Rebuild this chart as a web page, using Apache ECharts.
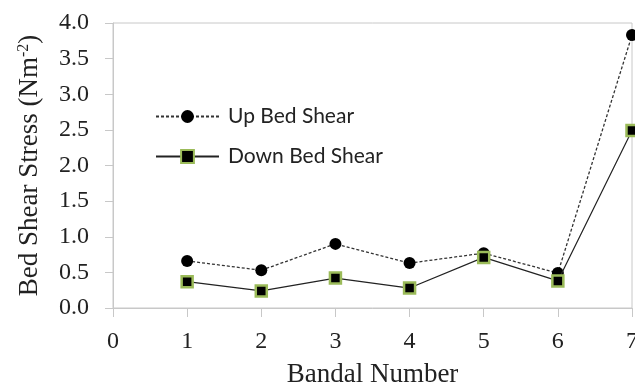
<!DOCTYPE html>
<html><head><meta charset="utf-8">
<script src="https://cdn.jsdelivr.net/npm/echarts@6/dist/echarts.min.js"></script>
<style>html,body{margin:0;padding:0;background:#fff}#c{width:635px;height:388px}</style>
</head><body><div id="c"></div>
<script>
var bandals = [1, 2, 3, 4, 5, 6, 7];
var upBedShear = [0.66, 0.53, 0.90, 0.63, 0.77, 0.49, 3.83];
var downBedShear = [0.37, 0.24, 0.42, 0.28, 0.71, 0.38, 2.49];
var xTicks = [0, 7, 1];
var yTicks = [0, 4, 0.5];

function pairs(xs, ys){ return xs.map(function(x,i){ return [x, ys[i]]; }); }

var chart = echarts.init(document.getElementById('c'), null, {renderer:'canvas'});
chart.setOption({
  animation: false,
  grid: {left: 113, right: 3, top: 23, bottom: 80, show: true, borderColor: '#c8c8c8', borderWidth: 1,
    containLabel: false, outerBoundsMode: 'none'},
  legend: {
    orient: 'vertical', left: 150, top: 100, itemWidth: 63, itemHeight: 16, itemGap: 17,
    textStyle: {fontFamily: 'Lato', fontSize: 21, lineHeight: 23, color: '#222', padding: [0,0,0,4]},
    data: ['Up Bed Shear', 'Down Bed Shear']
  },
  xAxis: {
    type: 'value', min: xTicks[0], max: xTicks[1], interval: xTicks[2],
    name: 'Bandal Number', nameLocation: 'middle', nameGap: 53,
    nameTextStyle: {fontFamily: 'Liberation Serif', fontSize: 27, color: '#222'},
    axisLine: {lineStyle: {color: '#c8c8c8', width: 1}},
    axisTick: {show: true, length: 9, lineStyle: {color: '#c8c8c8'}},
    axisLabel: {fontFamily: 'Liberation Serif', fontSize: 24, color: '#222', margin: 22},
    splitLine: {show: false}
  },
  yAxis: {
    type: 'value', min: yTicks[0], max: yTicks[1], interval: yTicks[2],
    name: '{a|Bed Shear Stress (Nm}{s|-2}{a|)}', nameLocation: 'middle', nameGap: 70, nameRotate: 90,
    nameTextStyle: {
      rich: {
        a: {fontFamily: 'Liberation Serif', fontSize: 27, color: '#222'},
        s: {fontFamily: 'Liberation Serif', fontSize: 16, color: '#222', verticalAlign: 'top', padding: [0,0,10,0]}
      }
    },
    axisLine: {show: true, lineStyle: {color: '#c8c8c8', width: 1}},
    axisTick: {show: true, inside: false, length: 8, lineStyle: {color: '#c8c8c8'}},
    axisLabel: {fontFamily: 'Liberation Serif', fontSize: 24, color: '#222', margin: 24,
      formatter: function(v){ return v.toFixed(1); }},
    splitLine: {show: false}
  },
  series: [
    {
      name: 'Up Bed Shear', type: 'line', data: pairs(bandals, upBedShear),
      symbol: 'circle', symbolSize: 12,
      itemStyle: {color: '#000'},
      lineStyle: {color: '#333', width: 1.3, type: [3, 2]},
      z: 2
    },
    {
      name: 'Down Bed Shear', type: 'line', data: pairs(bandals, downBedShear),
      symbol: 'rect', symbolSize: 11,
      itemStyle: {color: '#000', borderColor: '#9bbb59', borderWidth: 2.5},
      lineStyle: {color: '#222', width: 1.2},
      z: 3
    }
  ]
});
</script></body></html>
